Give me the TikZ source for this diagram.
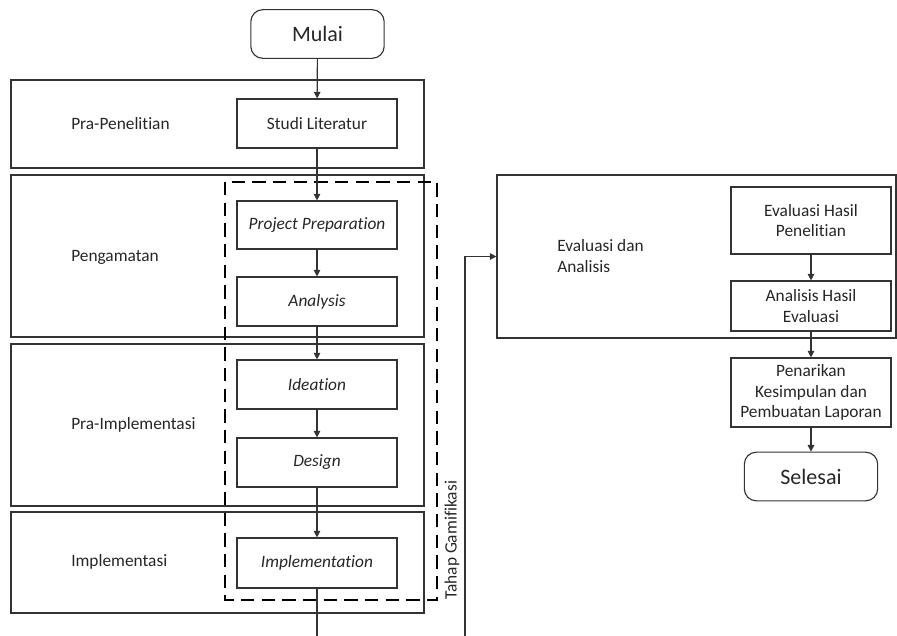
\documentclass[tikz,border=0pt]{standalone}
\usepackage{fontspec}
\setmainfont{Carlito}[Ligatures=NoCommon]
\usetikzlibrary{arrows.meta}
\definecolor{linec}{HTML}{333333}
\definecolor{textc}{HTML}{262626}
\begin{document}
\begin{tikzpicture}[x=0.75pt,y=-0.75pt,
  every node/.style={text=textc},
  lane/.style={draw=linec, line width=0.85pt, minimum width=309.75pt, inner sep=0pt},
  proc/.style={draw=linec, line width=0.85pt, minimum width=120pt, inner sep=1pt, align=center, font=\fontsize{13}{15.6}\selectfont},
  term/.style={draw=linec, line width=0.85pt, rounded corners=9pt, minimum width=100pt, minimum height=36.5pt, inner sep=0pt, font=\fontsize{16.5}{19}\selectfont},
  lbl/.style={anchor=west, align=left, inner sep=0pt, font=\fontsize{13}{15.6}\selectfont},
  arr/.style={draw=linec, line width=0.85pt, -{Triangle[length=5pt,width=5pt]}},
  conn/.style={draw=linec, line width=0.85pt},
  gam/.style={draw=black, line width=1.6pt, dash pattern=on 10pt off 5.5pt}
]
\useasboundingbox (0,0) rectangle (897,636);
% lanes
\node[lane, minimum height=66pt] (l1) at (217.5,124) {};
\node[lane, minimum height=121.5pt] (l2) at (217.5,256) {};
\node[lane, minimum height=121.5pt] (l3) at (217.5,425) {};
\node[lane, minimum height=75.75pt] (l4) at (217.5,562.5) {};
\node[draw=linec, line width=0.85pt, minimum width=299.25pt, minimum height=122.25pt, inner sep=0pt] (l5) at (696.5,256.5) {};
% lane labels
\node[lbl] (t1) at (71,124) {Pra-Penelitian};
\node[lbl] (t2) at (71,257) {Pengamatan};
\node[lbl] (t3) at (71,425) {Pra-Implementasi};
\node[lbl] (t4) at (71,562) {Implementasi};
\node[lbl] (t5) at (557,256) {Evaluasi dan\\Analisis};
% dashed group
\draw[gam] (225,182) rectangle (437,600);
\node[rotate=90, anchor=west, inner sep=0pt, font=\fontsize{13}{15.6}\selectfont] (tg) at (452,600) {Tahap Gamifikasi};
% process nodes
\node[term] (mulai) at (317.5,34) {Mulai};
\node[proc, minimum height=36.75pt] (studi) at (317,123.5) {Studi Literatur};
\node[proc, minimum height=36pt] (pp) at (317,225) {\itshape Project Preparation};
\node[proc, minimum height=36.75pt] (an) at (317,301.5) {\itshape Analysis};
\node[proc, minimum height=36.75pt] (id) at (317,384.5) {\itshape Ideation};
\node[proc, minimum height=36.75pt] (de) at (317,462.5) {\itshape Design};
\node[proc, minimum height=37.5pt] (im) at (317,563) {\itshape Implementation};
\node[proc, minimum height=50.25pt] (ev) at (811,220.5) {Evaluasi Hasil\\Penelitian};
\node[proc, minimum height=37.5pt] (ah) at (811,306) {Analisis Hasil\\Evaluasi};
\node[proc, minimum height=51.75pt] (pk) at (811,392.5) {Penarikan\\Kesimpulan dan\\Pembuatan Laporan};
\node[term] (sel) at (811,476.5) {Selesai};
% off-page ends
\coordinate (out1) at (317,636);
\coordinate (in1) at (465,636);
% connectors
\draw[arr] (mulai) -- (studi);
\draw[arr] (studi) -- (pp);
\draw[arr] (pp) -- (an);
\draw[arr] (an) -- (id);
\draw[arr] (id) -- (de);
\draw[arr] (de) -- (im);
\draw[conn] (im) -- (out1);
\draw[arr] (in1) |- (l5.west);
\draw[arr] (ev) -- (ah);
\draw[arr] (ah) -- (pk);
\draw[arr] (pk) -- (sel);
\end{tikzpicture}
\end{document}
